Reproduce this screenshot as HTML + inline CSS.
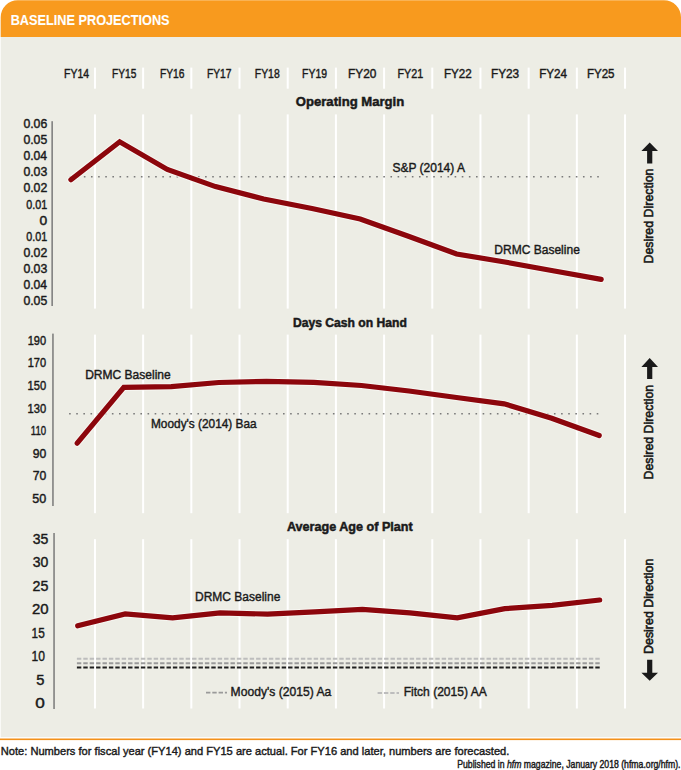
<!DOCTYPE html>
<html><head><meta charset="utf-8"><title>Baseline Projections</title>
<style>
html,body{margin:0;padding:0;background:#FFFFFF;width:681px;height:770px;overflow:hidden;}
svg{display:block;font-family:"Liberation Sans", sans-serif;}
</style></head>
<body>
<svg width="681" height="770" viewBox="0 0 681 770">
<rect x="0.7" y="20" width="680.3" height="717.2" fill="#EDEDE5"/>
<path d="M0.7,36.9 L0.7,17.3 A17,17 0 0 1 17.7,0.3 L664,0.3 A17,17 0 0 1 681,17.3 L681,36.9 Z" fill="#F89A1E"/>
<rect x="0" y="738.5" width="681" height="1.6" fill="#F39019"/>
<rect x="93.95" y="67.6" width="2" height="21.1" fill="#FFFFFF"/>
<rect x="93.95" y="114.4" width="2" height="194.2" fill="#FFFFFF"/>
<rect x="93.95" y="334.6" width="2" height="178.6" fill="#FFFFFF"/>
<rect x="93.95" y="539.2" width="2" height="169.3" fill="#FFFFFF"/>
<rect x="142.14" y="67.6" width="2" height="21.1" fill="#FFFFFF"/>
<rect x="142.14" y="114.4" width="2" height="194.2" fill="#FFFFFF"/>
<rect x="142.14" y="334.6" width="2" height="178.6" fill="#FFFFFF"/>
<rect x="142.14" y="539.2" width="2" height="169.3" fill="#FFFFFF"/>
<rect x="190.33" y="67.6" width="2" height="21.1" fill="#FFFFFF"/>
<rect x="190.33" y="114.4" width="2" height="194.2" fill="#FFFFFF"/>
<rect x="190.33" y="334.6" width="2" height="178.6" fill="#FFFFFF"/>
<rect x="190.33" y="539.2" width="2" height="169.3" fill="#FFFFFF"/>
<rect x="238.52" y="67.6" width="2" height="21.1" fill="#FFFFFF"/>
<rect x="238.52" y="114.4" width="2" height="194.2" fill="#FFFFFF"/>
<rect x="238.52" y="334.6" width="2" height="178.6" fill="#FFFFFF"/>
<rect x="238.52" y="539.2" width="2" height="169.3" fill="#FFFFFF"/>
<rect x="286.71" y="67.6" width="2" height="21.1" fill="#FFFFFF"/>
<rect x="286.71" y="114.4" width="2" height="194.2" fill="#FFFFFF"/>
<rect x="286.71" y="334.6" width="2" height="178.6" fill="#FFFFFF"/>
<rect x="286.71" y="539.2" width="2" height="169.3" fill="#FFFFFF"/>
<rect x="334.90" y="67.6" width="2" height="21.1" fill="#FFFFFF"/>
<rect x="334.90" y="114.4" width="2" height="194.2" fill="#FFFFFF"/>
<rect x="334.90" y="334.6" width="2" height="178.6" fill="#FFFFFF"/>
<rect x="334.90" y="539.2" width="2" height="169.3" fill="#FFFFFF"/>
<rect x="383.09" y="67.6" width="2" height="21.1" fill="#FFFFFF"/>
<rect x="383.09" y="114.4" width="2" height="194.2" fill="#FFFFFF"/>
<rect x="383.09" y="334.6" width="2" height="178.6" fill="#FFFFFF"/>
<rect x="383.09" y="539.2" width="2" height="169.3" fill="#FFFFFF"/>
<rect x="431.28" y="67.6" width="2" height="21.1" fill="#FFFFFF"/>
<rect x="431.28" y="114.4" width="2" height="194.2" fill="#FFFFFF"/>
<rect x="431.28" y="334.6" width="2" height="178.6" fill="#FFFFFF"/>
<rect x="431.28" y="539.2" width="2" height="169.3" fill="#FFFFFF"/>
<rect x="479.47" y="67.6" width="2" height="21.1" fill="#FFFFFF"/>
<rect x="479.47" y="114.4" width="2" height="194.2" fill="#FFFFFF"/>
<rect x="479.47" y="334.6" width="2" height="178.6" fill="#FFFFFF"/>
<rect x="479.47" y="539.2" width="2" height="169.3" fill="#FFFFFF"/>
<rect x="527.66" y="67.6" width="2" height="21.1" fill="#FFFFFF"/>
<rect x="527.66" y="114.4" width="2" height="194.2" fill="#FFFFFF"/>
<rect x="527.66" y="334.6" width="2" height="178.6" fill="#FFFFFF"/>
<rect x="527.66" y="539.2" width="2" height="169.3" fill="#FFFFFF"/>
<rect x="575.85" y="67.6" width="2" height="21.1" fill="#FFFFFF"/>
<rect x="575.85" y="114.4" width="2" height="194.2" fill="#FFFFFF"/>
<rect x="575.85" y="334.6" width="2" height="178.6" fill="#FFFFFF"/>
<rect x="575.85" y="539.2" width="2" height="169.3" fill="#FFFFFF"/>
<rect x="624.04" y="67.6" width="2" height="21.1" fill="#FFFFFF"/>
<rect x="624.04" y="114.4" width="2" height="194.2" fill="#FFFFFF"/>
<rect x="624.04" y="334.6" width="2" height="178.6" fill="#FFFFFF"/>
<rect x="624.04" y="539.2" width="2" height="169.3" fill="#FFFFFF"/>
<rect x="51.4" y="121.2" width="1.5" height="184.8" fill="#7A7A7A"/>
<rect x="52.2" y="333.6" width="1.5" height="172.4" fill="#7A7A7A"/>
<rect x="53.3" y="533" width="1.5" height="176" fill="#7A7A7A"/>
<line x1="69.60000000000001" y1="176.7" x2="600.0" y2="176.7" stroke="#7A7A7A" stroke-width="1.6" stroke-dasharray="1.6 5.53"/>
<line x1="69.10000000000001" y1="413.7" x2="600.0" y2="413.7" stroke="#7A7A7A" stroke-width="1.6" stroke-dasharray="1.6 5.53"/>
<line x1="76.9" y1="658.8" x2="601.5" y2="658.8" stroke="#BDBDBD" stroke-width="2" stroke-dasharray="4.4 2"/>
<line x1="76.9" y1="663.2" x2="601.5" y2="663.2" stroke="#9A9A9A" stroke-width="2" stroke-dasharray="4.4 2"/>
<line x1="76.9" y1="667.5" x2="601.5" y2="667.5" stroke="#1E1E1E" stroke-width="2" stroke-dasharray="4.4 2"/>
<line x1="206" y1="692.6" x2="227" y2="692.6" stroke="#9A9A9A" stroke-width="1.8" stroke-dasharray="4.4 1.9"/>
<line x1="377.6" y1="693" x2="399" y2="693" stroke="#BDBDBD" stroke-width="1.8" stroke-dasharray="4.4 1.9"/>
<polyline points="70.9,179.7 119.7,141.8 167.3,169.5 215.5,186.6 263.7,199.0 312.0,208.5 360.2,219.0 408.4,236.2 456.6,254.0 504.8,262.0 553.0,270.8 601.2,279.4" fill="none" stroke="#FAFAF6" stroke-opacity="0.75" stroke-width="7.2" stroke-linecap="round" stroke-linejoin="miter"/>
<polyline points="70.9,179.7 119.7,141.8 167.3,169.5 215.5,186.6 263.7,199.0 312.0,208.5 360.2,219.0 408.4,236.2 456.6,254.0 504.8,262.0 553.0,270.8 601.2,279.4" fill="none" stroke="#8C060C" stroke-width="5.2" stroke-linecap="round" stroke-linejoin="miter"/>
<polyline points="77.2,443.2 123.8,387.4 171.3,386.6 218.8,382.5 266.4,381.4 313.9,382.3 361.5,385.5 409.0,391.0 456.6,397.5 504.1,403.8 551.7,418.2 599.2,435.5" fill="none" stroke="#FAFAF6" stroke-opacity="0.75" stroke-width="7.2" stroke-linecap="round" stroke-linejoin="miter"/>
<polyline points="77.2,443.2 123.8,387.4 171.3,386.6 218.8,382.5 266.4,381.4 313.9,382.3 361.5,385.5 409.0,391.0 456.6,397.5 504.1,403.8 551.7,418.2 599.2,435.5" fill="none" stroke="#8C060C" stroke-width="5.2" stroke-linecap="round" stroke-linejoin="miter"/>
<polyline points="77.7,625.8 125.2,613.9 172.6,617.9 220.1,612.9 267.5,614.1 314.9,611.9 362.4,609.4 409.9,612.9 457.3,617.9 504.8,608.7 552.2,605.3 599.7,600.0" fill="none" stroke="#FAFAF6" stroke-opacity="0.75" stroke-width="7.2" stroke-linecap="round" stroke-linejoin="miter"/>
<polyline points="77.7,625.8 125.2,613.9 172.6,617.9 220.1,612.9 267.5,614.1 314.9,611.9 362.4,609.4 409.9,612.9 457.3,617.9 504.8,608.7 552.2,605.3 599.7,600.0" fill="none" stroke="#8C060C" stroke-width="5.2" stroke-linecap="round" stroke-linejoin="miter"/>
<text x="10.69" y="25.2" font-size="14.83" font-weight="bold" fill="#FFFFFF" stroke="#FFFFFF" stroke-width="0.1" textLength="158.90" lengthAdjust="spacingAndGlyphs">BASELINE PROJECTIONS</text>
<text x="64.08" y="77.9" font-size="12.5" font-weight="normal" fill="#1A1A1A" stroke="#1A1A1A" stroke-width="0.42" textLength="24.93" lengthAdjust="spacingAndGlyphs">FY14</text>
<text x="112.00" y="77.9" font-size="12.5" font-weight="normal" fill="#1A1A1A" stroke="#1A1A1A" stroke-width="0.42" textLength="24.30" lengthAdjust="spacingAndGlyphs">FY15</text>
<text x="159.89" y="77.9" font-size="12.5" font-weight="normal" fill="#1A1A1A" stroke="#1A1A1A" stroke-width="0.42" textLength="24.52" lengthAdjust="spacingAndGlyphs">FY16</text>
<text x="206.89" y="77.9" font-size="12.5" font-weight="normal" fill="#1A1A1A" stroke="#1A1A1A" stroke-width="0.42" textLength="24.52" lengthAdjust="spacingAndGlyphs">FY17</text>
<text x="254.78" y="77.9" font-size="12.5" font-weight="normal" fill="#1A1A1A" stroke="#1A1A1A" stroke-width="0.42" textLength="24.94" lengthAdjust="spacingAndGlyphs">FY18</text>
<text x="302.08" y="77.9" font-size="12.5" font-weight="normal" fill="#1A1A1A" stroke="#1A1A1A" stroke-width="0.42" textLength="24.94" lengthAdjust="spacingAndGlyphs">FY19</text>
<text x="348.06" y="77.9" font-size="12.5" font-weight="normal" fill="#1A1A1A" stroke="#1A1A1A" stroke-width="0.42" textLength="28.39" lengthAdjust="spacingAndGlyphs">FY20</text>
<text x="397.45" y="77.9" font-size="12.5" font-weight="normal" fill="#1A1A1A" stroke="#1A1A1A" stroke-width="0.42" textLength="25.68" lengthAdjust="spacingAndGlyphs">FY21</text>
<text x="443.98" y="77.9" font-size="12.5" font-weight="normal" fill="#1A1A1A" stroke="#1A1A1A" stroke-width="0.42" textLength="27.80" lengthAdjust="spacingAndGlyphs">FY22</text>
<text x="490.97" y="77.9" font-size="12.5" font-weight="normal" fill="#1A1A1A" stroke="#1A1A1A" stroke-width="0.42" textLength="28.22" lengthAdjust="spacingAndGlyphs">FY23</text>
<text x="539.18" y="77.9" font-size="12.5" font-weight="normal" fill="#1A1A1A" stroke="#1A1A1A" stroke-width="0.42" textLength="27.87" lengthAdjust="spacingAndGlyphs">FY24</text>
<text x="586.88" y="77.9" font-size="12.5" font-weight="normal" fill="#1A1A1A" stroke="#1A1A1A" stroke-width="0.42" textLength="27.66" lengthAdjust="spacingAndGlyphs">FY25</text>
<text x="295.76" y="106.2" font-size="13.38" font-weight="bold" fill="#1A1A1A" stroke="#1A1A1A" stroke-width="0.5" textLength="108.53" lengthAdjust="spacingAndGlyphs">Operating Margin</text>
<text x="292.93" y="326.9" font-size="12.57" font-weight="bold" fill="#1A1A1A" stroke="#1A1A1A" stroke-width="0.5" textLength="113.96" lengthAdjust="spacingAndGlyphs">Days Cash on Hand</text>
<text x="286.90" y="531.1" font-size="12.71" font-weight="bold" fill="#1A1A1A" stroke="#1A1A1A" stroke-width="0.5" textLength="125.86" lengthAdjust="spacingAndGlyphs">Average Age of Plant</text>
<text x="23.40" y="127.7" font-size="12.06" font-weight="normal" fill="#1A1A1A" stroke="#1A1A1A" stroke-width="0.42" textLength="23.87" lengthAdjust="spacingAndGlyphs">0.06</text>
<text x="23.40" y="143.86" font-size="12.06" font-weight="normal" fill="#1A1A1A" stroke="#1A1A1A" stroke-width="0.42" textLength="23.87" lengthAdjust="spacingAndGlyphs">0.05</text>
<text x="23.41" y="160.02" font-size="12.06" font-weight="normal" fill="#1A1A1A" stroke="#1A1A1A" stroke-width="0.42" textLength="23.61" lengthAdjust="spacingAndGlyphs">0.04</text>
<text x="23.40" y="176.18" font-size="12.06" font-weight="normal" fill="#1A1A1A" stroke="#1A1A1A" stroke-width="0.42" textLength="23.87" lengthAdjust="spacingAndGlyphs">0.03</text>
<text x="23.40" y="192.34" font-size="12.06" font-weight="normal" fill="#1A1A1A" stroke="#1A1A1A" stroke-width="0.42" textLength="23.87" lengthAdjust="spacingAndGlyphs">0.02</text>
<text x="26.37" y="208.5" font-size="12.06" font-weight="normal" fill="#1A1A1A" stroke="#1A1A1A" stroke-width="0.42" textLength="20.84" lengthAdjust="spacingAndGlyphs">0.01</text>
<text x="39.64" y="224.66000000000003" font-size="12.06" font-weight="normal" fill="#1A1A1A" stroke="#1A1A1A" stroke-width="0.42" textLength="7.68" lengthAdjust="spacingAndGlyphs">0</text>
<text x="26.37" y="240.82" font-size="12.06" font-weight="normal" fill="#1A1A1A" stroke="#1A1A1A" stroke-width="0.42" textLength="20.84" lengthAdjust="spacingAndGlyphs">0.01</text>
<text x="23.40" y="256.98" font-size="12.06" font-weight="normal" fill="#1A1A1A" stroke="#1A1A1A" stroke-width="0.42" textLength="23.87" lengthAdjust="spacingAndGlyphs">0.02</text>
<text x="23.40" y="273.14" font-size="12.06" font-weight="normal" fill="#1A1A1A" stroke="#1A1A1A" stroke-width="0.42" textLength="23.87" lengthAdjust="spacingAndGlyphs">0.03</text>
<text x="23.41" y="289.3" font-size="12.06" font-weight="normal" fill="#1A1A1A" stroke="#1A1A1A" stroke-width="0.42" textLength="23.61" lengthAdjust="spacingAndGlyphs">0.04</text>
<text x="23.40" y="305.46" font-size="12.06" font-weight="normal" fill="#1A1A1A" stroke="#1A1A1A" stroke-width="0.42" textLength="23.87" lengthAdjust="spacingAndGlyphs">0.05</text>
<text x="27.72" y="344.7" font-size="12.35" font-weight="normal" fill="#1A1A1A" stroke="#1A1A1A" stroke-width="0.42" textLength="18.39" lengthAdjust="spacingAndGlyphs">190</text>
<text x="27.72" y="367.33" font-size="12.35" font-weight="normal" fill="#1A1A1A" stroke="#1A1A1A" stroke-width="0.42" textLength="18.39" lengthAdjust="spacingAndGlyphs">170</text>
<text x="27.51" y="389.96" font-size="12.35" font-weight="normal" fill="#1A1A1A" stroke="#1A1A1A" stroke-width="0.42" textLength="18.60" lengthAdjust="spacingAndGlyphs">150</text>
<text x="27.51" y="412.59" font-size="12.35" font-weight="normal" fill="#1A1A1A" stroke="#1A1A1A" stroke-width="0.42" textLength="18.60" lengthAdjust="spacingAndGlyphs">130</text>
<text x="30.83" y="435.21999999999997" font-size="12.35" font-weight="normal" fill="#1A1A1A" stroke="#1A1A1A" stroke-width="0.42" textLength="15.30" lengthAdjust="spacingAndGlyphs">110</text>
<text x="32.72" y="457.84999999999997" font-size="12.35" font-weight="normal" fill="#1A1A1A" stroke="#1A1A1A" stroke-width="0.42" textLength="13.55" lengthAdjust="spacingAndGlyphs">90</text>
<text x="32.72" y="480.48" font-size="12.35" font-weight="normal" fill="#1A1A1A" stroke="#1A1A1A" stroke-width="0.42" textLength="13.55" lengthAdjust="spacingAndGlyphs">70</text>
<text x="32.30" y="503.11" font-size="12.35" font-weight="normal" fill="#1A1A1A" stroke="#1A1A1A" stroke-width="0.42" textLength="13.98" lengthAdjust="spacingAndGlyphs">50</text>
<text x="32.73" y="543.6" font-size="14.53" font-weight="normal" fill="#1A1A1A" stroke="#1A1A1A" stroke-width="0.42" textLength="15.60" lengthAdjust="spacingAndGlyphs">35</text>
<text x="32.73" y="567.13" font-size="14.53" font-weight="normal" fill="#1A1A1A" stroke="#1A1A1A" stroke-width="0.42" textLength="15.60" lengthAdjust="spacingAndGlyphs">30</text>
<text x="32.47" y="590.6600000000001" font-size="14.53" font-weight="normal" fill="#1A1A1A" stroke="#1A1A1A" stroke-width="0.42" textLength="15.86" lengthAdjust="spacingAndGlyphs">25</text>
<text x="31.94" y="614.19" font-size="14.53" font-weight="normal" fill="#1A1A1A" stroke="#1A1A1A" stroke-width="0.42" textLength="16.63" lengthAdjust="spacingAndGlyphs">20</text>
<text x="31.60" y="637.72" font-size="14.53" font-weight="normal" fill="#1A1A1A" stroke="#1A1A1A" stroke-width="0.42" textLength="13.13" lengthAdjust="spacingAndGlyphs">15</text>
<text x="31.58" y="661.25" font-size="14.53" font-weight="normal" fill="#1A1A1A" stroke="#1A1A1A" stroke-width="0.42" textLength="13.46" lengthAdjust="spacingAndGlyphs">10</text>
<text x="36.30" y="684.78" font-size="14.53" font-weight="normal" fill="#1A1A1A" stroke="#1A1A1A" stroke-width="0.42" textLength="8.17" lengthAdjust="spacingAndGlyphs">5</text>
<text x="35.32" y="708.3100000000001" font-size="14.53" font-weight="normal" fill="#1A1A1A" stroke="#1A1A1A" stroke-width="0.42" textLength="9.56" lengthAdjust="spacingAndGlyphs">0</text>
<text x="392.42" y="171.7" font-size="13.11" font-weight="normal" fill="#1A1A1A" stroke="#1A1A1A" stroke-width="0.42" textLength="72.52" lengthAdjust="spacingAndGlyphs">S&amp;P (2014) A</text>
<text x="494.30" y="254.3" font-size="13.25" font-weight="normal" fill="#1A1A1A" stroke="#1A1A1A" stroke-width="0.42" textLength="85.54" lengthAdjust="spacingAndGlyphs">DRMC Baseline</text>
<text x="85.15" y="378.8" font-size="12.57" font-weight="normal" fill="#1A1A1A" stroke="#1A1A1A" stroke-width="0.42" textLength="85.55" lengthAdjust="spacingAndGlyphs">DRMC Baseline</text>
<text x="150.99" y="428.0" font-size="12.84" font-weight="normal" fill="#1A1A1A" stroke="#1A1A1A" stroke-width="0.42" textLength="105.71" lengthAdjust="spacingAndGlyphs">Moody's (2014) Baa</text>
<text x="194.99" y="601.0" font-size="13.11" font-weight="normal" fill="#1A1A1A" stroke="#1A1A1A" stroke-width="0.42" textLength="85.36" lengthAdjust="spacingAndGlyphs">DRMC Baseline</text>
<text x="230.60" y="696.1" font-size="13.38" font-weight="normal" fill="#1A1A1A" stroke="#1A1A1A" stroke-width="0.42" textLength="100.68" lengthAdjust="spacingAndGlyphs">Moody's (2015) Aa</text>
<text x="403.68" y="695.7" font-size="12.98" font-weight="normal" fill="#1A1A1A" stroke="#1A1A1A" stroke-width="0.42" textLength="83.08" lengthAdjust="spacingAndGlyphs">Fitch (2015) AA</text>
<text x="0.76" y="754.6" font-size="11.63" font-weight="normal" fill="#1A1A1A" stroke="#1A1A1A" stroke-width="0.42" textLength="508.58" lengthAdjust="spacingAndGlyphs">Note: Numbers for fiscal year (FY14) and FY15 are actual. For FY16 and later, numbers are forecasted.</text>
<text x="457.26" y="768.4" font-size="10.0" font-weight="normal" fill="#1A1A1A" stroke="#1A1A1A" stroke-width="0.42" textLength="223.28" lengthAdjust="spacingAndGlyphs">Published in <tspan font-style="italic">hfm</tspan> magazine, January 2018 (hfma.org/hfm).</text>
<path d="M649.7,142.4 L658.0,150.9 L652.3000000000001,150.9 L652.3000000000001,163.6 L647.1,163.6 L647.1,150.9 L641.4000000000001,150.9 Z" fill="#1A1A1A"/>
<text x="0" y="0" font-size="13.6" font-weight="normal" fill="#1A1A1A" stroke="#1A1A1A" stroke-width="0.6" textLength="94.93" lengthAdjust="spacingAndGlyphs" transform="translate(652.5,263.51) rotate(-90)">Desired Direction</text>
<path d="M649.7,357.9 L658.0,366.9 L652.3000000000001,366.9 L652.3000000000001,379 L647.1,379 L647.1,366.9 L641.4000000000001,366.9 Z" fill="#1A1A1A"/>
<text x="0" y="0" font-size="13.6" font-weight="normal" fill="#1A1A1A" stroke="#1A1A1A" stroke-width="0.6" textLength="94.62" lengthAdjust="spacingAndGlyphs" transform="translate(652.5,479.41) rotate(-90)">Desired Direction</text>
<text x="0" y="0" font-size="13.6" font-weight="normal" fill="#1A1A1A" stroke="#1A1A1A" stroke-width="0.6" textLength="95.34" lengthAdjust="spacingAndGlyphs" transform="translate(652.5,654.01) rotate(-90)">Desired Direction</text>
<path d="M649.7,680.8 L658.0,672.8 L652.3000000000001,672.8 L652.3000000000001,659.8 L647.1,659.8 L647.1,672.8 L641.4000000000001,672.8 Z" fill="#1A1A1A"/>
</svg>
</body></html>
